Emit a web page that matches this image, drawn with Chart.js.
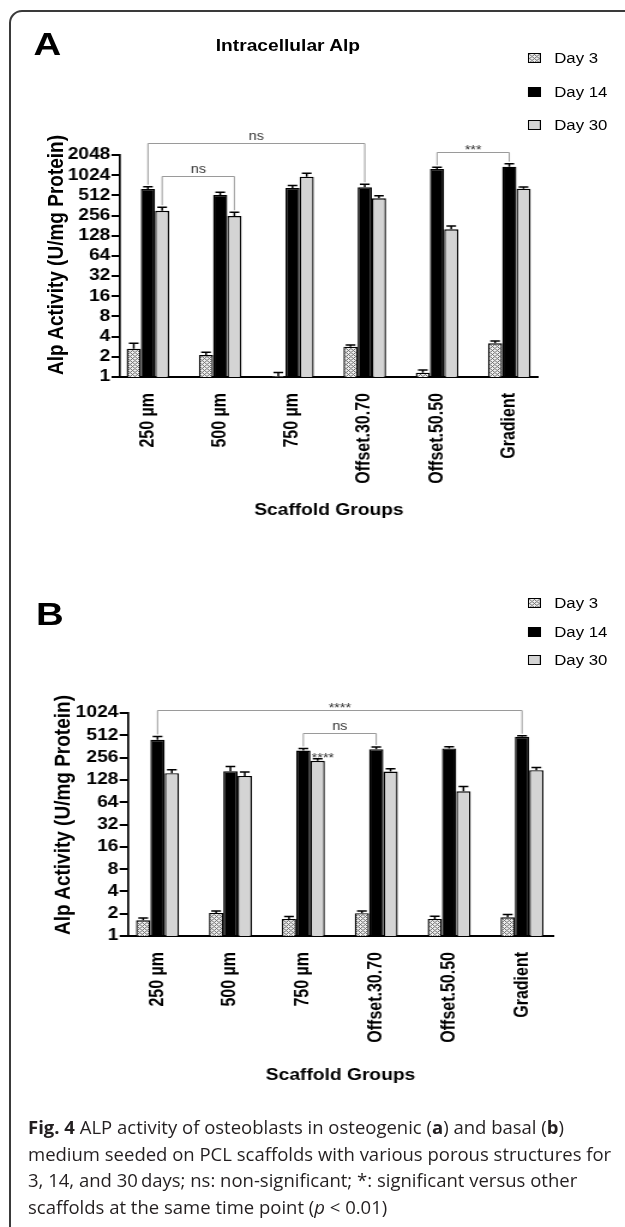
<!DOCTYPE html>
<html>
<head>
<meta charset="utf-8">
<script src="https://cdn.jsdelivr.net/npm/chart.js@4.4.1/dist/chart.umd.min.js"></script>
<style>
  html, body { margin: 0; padding: 0; background: #fff; }
  body { position: relative; width: 625px; height: 1227px; overflow: hidden; font-family: "Liberation Sans", Arial, sans-serif; color: #000; }
  #frame { position: absolute; left: 9px; top: 10px; width: 720px; height: 1300px; border: 2px solid #3a3a3a; border-radius: 13px; }
  /* the figure is drawn 521px wide and stretched to 625px, like the reference image */
  #fig { position: absolute; left: 0; top: 0; width: 521px; height: 1120px; transform: scaleX(1.1996); transform-origin: 0 0; }
  #fig canvas { position: absolute; left: 0; }
  .letter { position: absolute; font-weight: bold; font-size: 32px; line-height: 32px; }
  .title { position: absolute; font-weight: bold; font-size: 16px; line-height: 16px; transform: translateX(-50%); white-space: nowrap; }
  .ytitle { position: absolute; font-weight: bold; font-size: 19px; line-height: 19px; white-space: nowrap; transform: translate(-50%, -50%) rotate(-90deg); }
  .legend-row { position: absolute; left: 440px; height: 14px; display: flex; align-items: center; font-size: 14px; line-height: 14px; white-space: nowrap; }
  .swatch { width: 9px; height: 7.5px; border: 1.3px solid #000; margin-right: 11px; }
  #caption { position: absolute; left: 28px; top: 1114px; font-family: "Open Sans", "Noto Sans", sans-serif; font-size: 18.5px; line-height: 26.7px; color: #231f20; white-space: nowrap; }
</style>
</head>
<body>
<div id="frame"></div>

<div id="fig">
  <div class="letter" style="left:28px;top:28px">A</div>
  <div class="title" style="left:240px;top:38px">Intracellular Alp</div>
  <canvas id="chartA" width="521" height="560" style="top:0;width:521px;height:560px"></canvas>
  <div class="ytitle" style="left:46px;top:255px">Alp Activity (U/mg Protein)</div>

  <div class="letter" style="left:30px;top:598px">B</div>
  <canvas id="chartB" width="521" height="560" style="top:560px;width:521px;height:560px"></canvas>
  <div class="ytitle" style="left:52px;top:815px">Alp Activity (U/mg Protein)</div>
</div>

<div id="caption">
<b>Fig. 4</b> ALP activity of osteoblasts in osteogenic (<b>a</b>) and basal (<b>b</b>)<br>
medium seeded on PCL scaffolds with various porous structures for<br>
3, 14, and 30&#8201;days; ns: non-significant; *: significant versus other<br>
scaffolds at the same time point (<i>p</i> &lt; 0.01)
</div>

<script>
// categories and series
const groups = ["250 µm", "500 µm", "750 µm", "Offset.30.70", "Offset.50.50", "Gradient"];
const seriesNames = ["Day 3", "Day 14", "Day 30"];

// y tick labels (log2 axis)
const yTicksA = [1, 2, 4, 8, 16, 32, 64, 128, 256, 512, 1024, 2048];
const yTicksB = [1, 2, 4, 8, 16, 32, 64, 128, 256, 512, 1024];

// panel A: osteogenic medium (means and SD)
const osteoDay3 = [2.64, 2.13, 1.03, 2.83, 1.16, 3.18];
const osteoDay14 = [638, 519, 660, 676, 1268, 1370];
const osteoDay30 = [302, 252, 974, 464, 160, 644];
const osteoDay3Sd = [0.54, 0.2, 0.14, 0.17, 0.11, 0.26];
const osteoDay14Sd = [51, 50, 60, 73, 75, 150];
const osteoDay30Sd = [38, 34, 118, 42, 19, 39];

// panel B: basal medium (means and SD)
const basalDay3 = [1.63, 2.05, 1.7, 2.03, 1.7, 1.79];
const basalDay14 = [446, 168, 319, 333, 340, 488];
const basalDay30 = [158, 145, 232, 166, 90, 173];
const basalDay3Sd = [0.12, 0.13, 0.13, 0.15, 0.15, 0.16];
const basalDay14Sd = [48, 26, 21, 22, 18, 17];
const basalDay30Sd = [17, 18, 15, 15, 14, 15];

// significance brackets: [fromGroup, toGroup, series, level, label]
const bracketsA = [
  [0, 3, 1, 3130, "ns"],
  [0, 1, 2, 996, "ns"],
  [4, 5, 1, 2243, "***"],
];
const bracketsB = [
  [0, 5, 1, 1135, "****"],
  [2, 3, 1, 549, "ns"],
];
// single markers: [group, series, label]
const marksB = [[2, 2, "****"]];

Chart.defaults.font.family = '"Liberation Sans", Arial, sans-serif';
Chart.defaults.color = "#000";

function makeHatch() {
  const c = document.createElement("canvas");
  c.width = 4;
  c.height = 4;
  const g = c.getContext("2d");
  g.fillStyle = "#efefef";
  g.fillRect(0, 0, 4, 4);
  g.fillStyle = "#6f6f6f";
  for (let x = 0; x < 4; x++) {
    for (let y = 0; y < 4; y++) {
      if ((x + y) % 4 === 0 || (x - y + 4) % 4 === 0) g.fillRect(x, y, 1, 1);
    }
  }
  return c;
}
const hatchCanvas = makeHatch();
const hatch = document.createElement("canvas").getContext("2d").createPattern(hatchCanvas, "repeat");
const fills = [hatch, "#000000", "#d4d4d4"];

function buildLegend(centers) {
  const fig = document.getElementById("fig");
  seriesNames.forEach((name, i) => {
    const row = document.createElement("div");
    row.className = "legend-row";
    row.style.top = centers[i] - 7 + "px";
    const sw = document.createElement("div");
    sw.className = "swatch";
    if (i === 0) sw.style.background = `url(${hatchCanvas.toDataURL()})`;
    else sw.style.background = fills[i];
    row.appendChild(sw);
    row.appendChild(document.createTextNode(name));
    fig.appendChild(row);
  });
}

// upper error bars, drawn from the SD arrays
const errorBars = {
  id: "errorBars",
  afterDatasetsDraw(chart, args, opts) {
    const { ctx } = chart;
    const y = chart.scales.y;
    ctx.save();
    ctx.strokeStyle = "#000";
    ctx.lineWidth = 1.5;
    chart.data.datasets.forEach((ds, di) => {
      chart.getDatasetMeta(di).data.forEach((bar, i) => {
        const top = y.getPixelForValue(ds.data[i].y + opts.sd[di][i]);
        const half = bar.width * 0.34;
        ctx.beginPath();
        ctx.moveTo(bar.x, bar.y);
        ctx.lineTo(bar.x, top);
        ctx.moveTo(bar.x - half, top);
        ctx.lineTo(bar.x + half, top);
        ctx.stroke();
      });
    });
    ctx.restore();
  },
};

function errTop(chart, sd, s, g) {
  return chart.scales.y.getPixelForValue(chart.data.datasets[s].data[g].y + sd[s][g]);
}

const brackets = {
  id: "brackets",
  afterDraw(chart, args, opts) {
    const { ctx } = chart;
    const y = chart.scales.y;
    ctx.save();
    ctx.strokeStyle = "#9a9a9a";
    ctx.lineWidth = 1;
    ctx.fillStyle = "#333";
    ctx.textAlign = "center";
    ctx.textBaseline = "alphabetic";
    ctx.font = "12px 'Liberation Sans', Arial, sans-serif";
    opts.list.forEach(([g0, g1, s, level, label]) => {
      const meta = chart.getDatasetMeta(s);
      const x0 = meta.data[g0].x;
      const x1 = meta.data[g1].x;
      const yl = Math.round(y.getPixelForValue(level)) + 0.5;
      ctx.beginPath();
      ctx.moveTo(x0, errTop(chart, opts.sd, s, g0) - 2);
      ctx.lineTo(x0, yl);
      ctx.lineTo(x1, yl);
      ctx.lineTo(x1, errTop(chart, opts.sd, s, g1) - 2);
      ctx.stroke();
      const star = label.startsWith("*");
      ctx.fillText(label, (x0 + x1) / 2, star ? yl + 1 : yl - 4);
    });
    ctx.textAlign = "left";
    (opts.marks || []).forEach(([g, s, label]) => {
      const bar = chart.getDatasetMeta(s).data[g];
      ctx.fillText(label, bar.x - bar.width / 2 + 1, errTop(chart, opts.sd, s, g) + 3);
    });
    ctx.restore();
  },
};

function makeChart(id, cfg) {
  const datasets = cfg.series.map((vals, si) => ({
    label: seriesNames[si],
    data: vals.map((v, i) => ({ x: i, y: v })),
    backgroundColor: fills[si],
    borderColor: "#000",
    borderWidth: 1.4,
    categoryPercentage: 0.59,
    barPercentage: 1.0,
  }));
  return new Chart(document.getElementById(id), {
    type: "bar",
    data: { datasets },
    options: {
      responsive: false,
      animation: false,
      devicePixelRatio: 1,
      layout: { padding: { left: 0, right: cfg.right, top: cfg.top, bottom: 0 } },
      plugins: {
        legend: { display: false },
        tooltip: { enabled: false },
        errorBars: { sd: cfg.sd },
        brackets: { list: cfg.brackets, marks: cfg.marks, sd: cfg.sd },
      },
      scales: {
        x: {
          type: "linear",
          offset: false,
          bounds: "data",
          min: cfg.xMin,
          max: cfg.xMax,
          afterBuildTicks: (s) => {
            s.ticks = groups.map((_, i) => ({ value: i }));
          },
          afterFit: (s) => {
            s.height = 560 - cfg.bottom;
          },
          ticks: {
            callback: (v) => groups[v],
            autoSkip: false,
            minRotation: 90,
            maxRotation: 90,
            padding: 8,
            font: { size: 16, weight: "bold" },
          },
          grid: { display: false, offset: false },
          border: { display: true, color: "#000", width: 2 },
          title: {
            display: true,
            text: "Scaffold Groups",
            font: { size: 16, weight: "bold" },
            padding: { top: 0, bottom: cfg.titlePad },
          },
        },
        y: {
          type: "logarithmic",
          min: 1,
          max: cfg.yTicks[cfg.yTicks.length - 1],
          afterBuildTicks: (s) => {
            s.ticks = cfg.yTicks.map((v) => ({ value: v }));
          },
          afterFit: (s) => {
            s.width = cfg.left;
          },
          ticks: {
            callback: (v) => String(v),
            autoSkip: false,
            padding: 1,
            font: { size: 16, weight: "bold" },
          },
          grid: { drawOnChartArea: false, drawTicks: true, tickLength: 7, color: "#000", lineWidth: 2 },
          border: { display: true, color: "#000", width: 1.7 },
        },
      },
    },
    plugins: [errorBars, brackets],
  });
}

makeChart("chartA", {
  series: [osteoDay3, osteoDay14, osteoDay30],
  sd: [osteoDay3Sd, osteoDay14Sd, osteoDay30Sd],
  yTicks: yTicksA,
  brackets: bracketsA,
  marks: [],
  left: 100,
  right: 72.7,
  top: 155,
  bottom: 377,
  titlePad: 40,
  xMin: -0.387,
  xMax: 5.394,
});

makeChart("chartB", {
  series: [basalDay3, basalDay14, basalDay30],
  sd: [basalDay3Sd, basalDay14Sd, basalDay30Sd],
  yTicks: yTicksB,
  brackets: bracketsB,
  marks: marksB,
  left: 106.7,
  right: 60,
  top: 153,
  bottom: 376,
  titlePad: 35,
  xMin: -0.405,
  xMax: 5.425,
});

buildLegend([58, 92, 125]);
buildLegend([603, 632, 660]);
</script>
</body>
</html>
